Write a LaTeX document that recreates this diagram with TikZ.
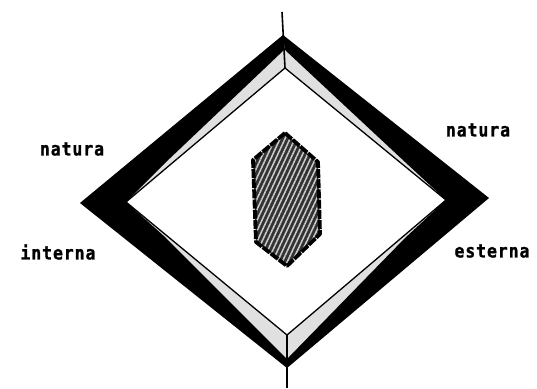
\documentclass[tikz,border=0pt]{standalone}
\usepackage{fontspec}
\newfontfamily\lblfont{DejaVu Sans Mono}[FakeStretch=0.88,LetterSpace=5,BoldFeatures={FakeBold=1.2}]
\usetikzlibrary{patterns.meta}
\tikzset{
  lbl/.style={font=\lblfont\bfseries\fontsize{18.7}{19}\selectfont, inner sep=0pt},
  wedge/.style={fill=black},
  frame/.style={fill=black!12},
}
\begin{document}
\begin{tikzpicture}[x=1pt,y=-1pt]
\useasboundingbox (0,0) rectangle (537,388);
% outer and inner diamonds
\coordinate (OT) at (283,35);
\coordinate (OR) at (489,198);
\coordinate (OB) at (287,368);
\coordinate (OL) at (80,203);
\coordinate (IT) at (285,68);
\coordinate (IR) at (446,200);
\coordinate (IB) at (287,335);
\coordinate (IL) at (126,202);
\coordinate (TT) at (282,12);
\coordinate (BB) at (287,388);
% frame
\fill[frame,even odd rule] (OT)--(OR)--(OB)--(OL)--cycle (IT)--(IR)--(IB)--(IL)--cycle;
% black bands
\fill[wedge] (OT)--(OL)--(OB)--(286,358)--(165,237)--(IL)--(165,163)--(284,50)--cycle;
\fill[wedge] (OT)--(OR)--(OB)--(288,358)--(405,238)--(IR)--(405,162)--(285,50)--cycle;
% inner outline
\draw[line width=1.3pt,line join=miter] (IT)--(IR)--(IB)--(IL)--cycle;
% axis lines
\draw[line width=1.6pt] (TT)--(IT);
\draw[line width=1.6pt] (IB)--(BB);
% hatched core
\coordinate (h1) at (285,133);
\coordinate (h2) at (318,162);
\coordinate (h3) at (320,234);
\coordinate (h4) at (287,266);
\coordinate (h5) at (256,242);
\coordinate (h6) at (253,160);
\fill[black!80] (h1)--(h2)--(h3)--(h4)--(h5)--(h6)--cycle;
\fill[pattern={Lines[angle=65,distance=4.5pt,line width=1.5pt]},pattern color=white!80!black]
  (h1)--(h2)--(h3)--(h4)--(h5)--(h6)--cycle;
\draw[line width=3.8pt,line join=round,dash pattern=on 9pt off 1.2pt] (h1)--(h2)--(h3)--(h4)--(h5)--(h6)--cycle;
% labels
\node[lbl] (nl) at (72,149) {natura};
\node[lbl] (il) at (58,252) {interna};
\node[lbl] (nr) at (478,130) {natura};
\node[lbl] (er) at (492,251) {esterna};
\end{tikzpicture}
\end{document}
